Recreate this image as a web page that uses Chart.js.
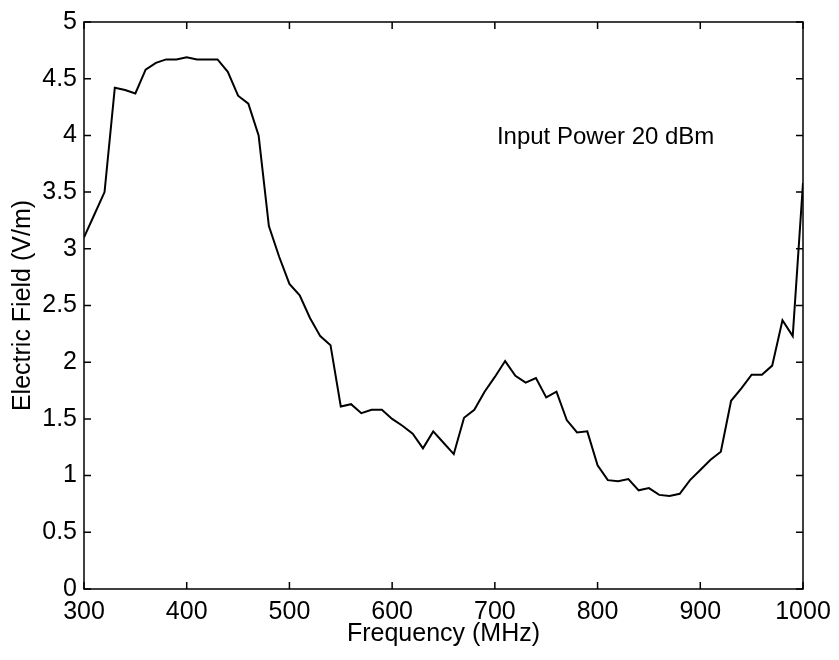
<!DOCTYPE html>
<html>
<head>
<meta charset="utf-8">
<script src="https://cdn.jsdelivr.net/npm/chart.js@4.4.1/dist/chart.umd.min.js"></script>
<style>
  body { margin: 0; background: #fff; }
  #wrap { width: 839px; height: 660px; }
</style>
</head>
<body>
<div id="wrap"><canvas id="fieldChart"></canvas></div>
<script>
// frequency points (MHz), one every 10 MHz
const freqs = [300, 310, 320, 330, 340, 350, 360, 370, 380, 390,
    400, 410, 420, 430, 440, 450, 460, 470, 480, 490,
    500, 510, 520, 530, 540, 550, 560, 570, 580, 590,
    600, 610, 620, 630, 640, 650, 660, 670, 680, 690,
    700, 710, 720, 730, 740, 750, 760, 770, 780, 790,
    800, 810, 820, 830, 840, 850, 860, 870, 880, 890,
    900, 910, 920, 930, 940, 950, 960, 970, 980, 990, 1000];
// electric field (V/m)
const field = [3.10, 3.30, 3.50, 4.42, 4.40, 4.37, 4.58, 4.64, 4.67, 4.67,
    4.69, 4.67, 4.67, 4.67, 4.56, 4.35, 4.28, 4.00, 3.20, 2.93,
    2.69, 2.59, 2.39, 2.23, 2.15, 1.61, 1.63, 1.55, 1.58, 1.58,
    1.50, 1.44, 1.37, 1.24, 1.39, 1.29, 1.19, 1.51, 1.58, 1.74,
    1.87, 2.01, 1.88, 1.82, 1.86, 1.69, 1.74, 1.49, 1.38, 1.39,
    1.09, 0.96, 0.95, 0.97, 0.87, 0.89, 0.83, 0.82, 0.84, 0.96,
    1.05, 1.14, 1.21, 1.66, 1.77, 1.89, 1.89, 1.97, 2.37, 2.23, 3.58];
const xTicks = [300, 400, 500, 600, 700, 800, 900, 1000];
const yTicks = [0, 0.5, 1, 1.5, 2, 2.5, 3, 3.5, 4, 4.5, 5];
const noteText = 'Input Power 20 dBm';
const notePos = { x: 702, y: 3.92 };

const fontFam = '"Liberation Sans", Arial, Helvetica, sans-serif';

// MATLAB-like box with inward ticks, plus the text note
const boxPlugin = {
    id: 'boxPlugin',
    afterDraw(chart) {
        const { ctx, chartArea: a, scales } = chart;
        const len = 7;
        ctx.save();
        ctx.strokeStyle = '#000';
        ctx.lineWidth = 1.5;
        ctx.strokeRect(a.left, a.top, a.right - a.left, a.bottom - a.top);
        ctx.beginPath();
        xTicks.forEach(v => {
            const px = scales.x.getPixelForValue(v);
            ctx.moveTo(px, a.bottom); ctx.lineTo(px, a.bottom - len);
            ctx.moveTo(px, a.top); ctx.lineTo(px, a.top + len);
        });
        yTicks.forEach(v => {
            const py = scales.y.getPixelForValue(v);
            ctx.moveTo(a.left, py); ctx.lineTo(a.left + len, py);
            ctx.moveTo(a.right, py); ctx.lineTo(a.right - len, py);
        });
        ctx.stroke();

        ctx.fillStyle = '#000';
        ctx.font = '24px ' + fontFam;
        ctx.textAlign = 'left';
        ctx.textBaseline = 'alphabetic';
        ctx.fillText(noteText, scales.x.getPixelForValue(notePos.x), scales.y.getPixelForValue(notePos.y));
        ctx.restore();
    }
};

document.addEventListener('DOMContentLoaded', function() {
    const points = freqs.map((f, i) => ({ x: f, y: field[i] }));

    new Chart(document.getElementById('fieldChart').getContext('2d'), {
        type: 'line',
        data: {
            datasets: [{
                data: points,
                borderColor: '#000',
                borderWidth: 2,
                pointRadius: 0,
                tension: 0,
                fill: false
            }]
        },
        options: {
            responsive: true,
            maintainAspectRatio: false,
            animation: false,
            layout: { padding: { left: 0, top: 17, right: 36, bottom: 0 } },
            plugins: { legend: { display: false }, tooltip: { enabled: false } },
            scales: {
                x: {
                    type: 'linear',
                    min: 300,
                    max: 1000,
                    afterBuildTicks: s => { s.ticks = xTicks.map(v => ({ value: v })); },
                    afterFit: s => { s.height = 71; },
                    grid: { display: false, drawTicks: false },
                    border: { display: false },
                    ticks: {
                        color: '#000',
                        padding: 8,
                        maxRotation: 0,
                        font: { family: fontFam, size: 25 },
                        callback: v => String(v)
                    },
                    title: {
                        display: true,
                        text: 'Frequency (MHz)',
                        color: '#000',
                        font: { family: fontFam, size: 25 },
                        padding: { top: 0, bottom: 11 }
                    }
                },
                y: {
                    type: 'linear',
                    min: 0,
                    max: 5,
                    afterBuildTicks: s => { s.ticks = yTicks.map(v => ({ value: v })); },
                    afterFit: s => { s.width = 84; },
                    grid: { display: false, drawTicks: false },
                    border: { display: false },
                    ticks: {
                        color: '#000',
                        padding: 7,
                        font: { family: fontFam, size: 25 },
                        callback: v => String(v)
                    },
                    title: {
                        display: true,
                        text: 'Electric Field (V/m)',
                        color: '#000',
                        font: { family: fontFam, size: 25 },
                        padding: { top: 8, bottom: 0 }
                    }
                }
            }
        },
        plugins: [boxPlugin]
    });
});
</script>
</body>
</html>
